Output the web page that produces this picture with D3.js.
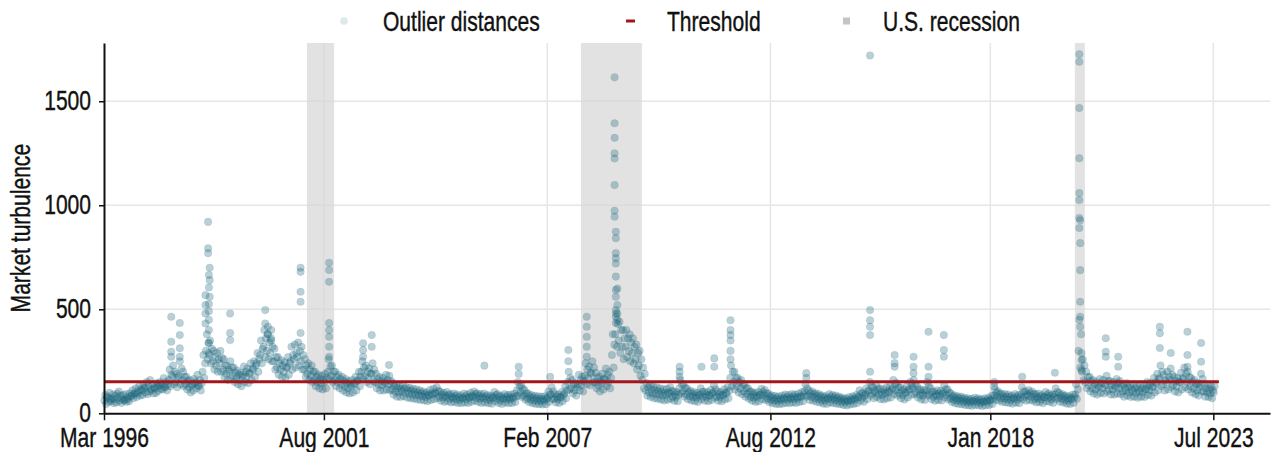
<!DOCTYPE html>
<html>
<head>
<meta charset="utf-8">
<script src="https://cdn.jsdelivr.net/npm/d3@7"></script>
<style>
  html, body { margin: 0; padding: 0; background: #fff; }
  svg { display: block; font-family: "Liberation Sans", Arial, sans-serif; }
</style>
</head>
<body>
<svg id="chart" width="1275" height="452"></svg>
<script>
// Market turbulence readings: four observations per month, one array per year.
const t1996 = [ // Mar–Dec
  [62,88,45,75],[80,55,98,68],[58,72,90,48],[66,84,52,95],[74,105,60,85],
  [50,70,88,62],[64,92,55,78],[70,58,96,82],[86,110,72,95],[92,120,78,105]];
const t1997 = [
  [98,130,85,115],[110,88,135,120],[125,100,150,92],[130,105,160,118],[112,140,95,125],[120,98,145,132],
  [108,135,150,118],[140,115,170,128],[125,150,110,138],[160,210,130,185],[175,230,140,200],[150,190,125,170]];
const t1998 = [
  [180,250,140,215],[160,200,130,175],[140,175,115,155],[125,160,100,140],[135,110,165,145],[150,120,185,135],
  [130,160,110,145],[200,280,170,240],[300,380,260,340],[280,350,240,310],[250,300,210,270],[230,290,200,260]];
const t1999 = [
  [240,300,200,265],[210,260,175,230],[190,230,160,210],[200,250,165,220],[180,220,150,195],[170,205,140,185],
  [160,195,130,175],[185,225,150,200],[175,215,145,190],[195,240,160,215],[210,250,175,230],[240,290,200,260]];
const t2000 = [
  [280,350,240,310],[320,400,270,360],[300,380,260,340],[290,360,250,320],[250,310,210,270],[220,270,185,240],
  [210,255,175,230],[200,245,170,220],[220,270,185,240],[250,320,210,280],[260,330,220,290],[270,340,230,300]];
const t2001 = [
  [250,320,210,280],[210,260,175,230],[190,240,160,210],[180,230,150,200],[160,200,130,175],[150,185,120,165],
  [145,180,115,160],[150,190,120,170],[200,260,165,225],[180,230,150,200],[160,200,130,175],[150,185,120,165]];
const t2002 = [
  [140,175,110,155],[130,165,100,145],[120,155,95,135],[130,160,100,145],[140,175,110,155],[160,200,130,175],
  [200,250,165,220],[180,230,150,200],[170,215,140,190],[190,240,155,210],[150,190,120,165],[140,175,110,155]];
const t2003 = [
  [135,170,110,150],[145,185,115,160],[140,180,110,155],[115,145,90,130],[105,135,80,120],[100,130,78,115],
  [105,135,82,118],[98,125,75,110],[95,122,72,108],[90,118,70,102],[88,115,66,100],[85,110,64,96]];
const t2004 = [
  [82,105,62,92],[78,100,58,88],[85,112,64,96],[90,118,68,100],[95,125,72,108],[80,104,60,90],
  [75,98,55,86],[78,102,58,88],[70,92,52,80],[72,95,54,83],[68,90,50,78],[65,86,48,75]];
const t2005 = [
  [72,95,52,82],[68,90,50,78],[75,98,55,85],[80,105,60,92],[74,96,54,84],[70,92,50,80],
  [72,95,52,82],[66,88,48,76],[64,85,46,74],[78,102,58,88],[70,92,50,80],[62,84,45,72]];
const t2006 = [
  [70,92,52,80],[66,88,48,76],[68,90,50,78],[72,95,54,82],[110,150,85,130],[100,135,78,118],
  [85,110,65,96],[72,95,54,82],[66,88,48,76],[62,84,45,72],[60,82,44,70],[58,80,42,68]];
const t2007 = [
  [60,82,44,70],[75,105,55,90],[90,125,68,105],[70,92,52,80],[68,90,50,78],[78,102,58,88],
  [95,130,72,110],[150,200,115,170],[120,160,95,140],[110,145,85,125],[140,185,110,160],[135,175,105,155]];
const t2008 = [
  [180,240,140,210],[170,225,135,195],[190,250,150,220],[150,195,120,170],[135,175,105,155],[145,190,115,165],
  [165,215,130,185],[150,200,120,170],[280,380,220,330],[380,480,320,430],[350,440,290,400],[320,400,260,360]];
const t2009 = [
  [320,400,270,360],[300,380,250,340],[290,360,240,320],[260,330,210,290],[230,300,180,260],[160,220,120,190],
  [110,145,85,125],[100,135,78,115],[95,128,72,110],[92,125,70,106],[90,120,66,102],[85,115,62,98]];
const t2010 = [
  [88,118,65,100],[95,125,70,108],[80,105,60,92],[78,102,58,88],[120,160,95,140],[105,140,80,120],
  [90,120,68,102],[82,108,62,94],[78,102,58,88],[75,98,55,85],[90,120,68,102],[80,105,60,92]];
const t2011 = [
  [78,102,58,88],[85,112,64,96],[100,135,75,115],[80,105,60,92],[78,102,58,88],[88,115,66,100],
  [95,125,72,108],[170,230,130,200],[150,200,115,170],[130,170,100,150],[120,160,92,138],[105,140,80,120]];
const t2012 = [
  [92,120,70,105],[80,105,60,92],[75,98,55,85],[78,102,58,88],[90,118,68,102],[85,112,64,96],
  [72,95,54,82],[65,86,48,75],[62,84,45,72],[60,80,44,70],[64,85,46,74],[68,90,50,78]];
const t2013 = [
  [66,88,48,76],[70,92,52,80],[68,90,50,78],[72,95,54,82],[78,102,58,88],[105,140,80,120],
  [85,110,64,96],[80,105,60,92],[74,96,55,84],[70,92,52,80],[64,85,46,74],[62,82,45,72]];
const t2014 = [
  [70,92,52,80],[66,88,48,76],[64,85,46,74],[60,80,44,70],[56,75,40,65],[54,72,38,62],
  [58,78,42,68],[62,82,45,72],[66,88,48,76],[80,110,60,95],[75,98,55,85],[90,120,68,105]];
const t2015 = [
  [110,150,85,130],[95,125,72,108],[100,135,78,115],[90,120,68,102],[88,115,66,100],[95,125,72,108],
  [100,130,76,112],[120,160,92,140],[110,145,85,125],[95,125,72,108],[88,115,66,100],[100,130,76,112]];
const t2016 = [
  [115,150,88,130],[120,160,92,140],[100,130,76,112],[88,115,66,100],[85,112,64,96],[110,150,85,130],
  [90,120,68,102],[80,105,60,92],[85,110,64,96],[82,108,62,94],[100,135,76,115],[88,115,66,100]];
const t2017 = [
  [72,95,54,82],[65,86,48,75],[62,82,45,72],[60,80,44,70],[56,75,40,65],[54,72,38,62],
  [52,70,36,60],[56,75,40,65],[54,72,38,62],[50,68,35,58],[54,72,38,62],[56,75,40,65]];
const t2018 = [
  [62,84,45,72],[85,115,64,100],[80,105,60,92],[72,95,54,82],[70,92,52,80],[68,90,50,78],
  [64,85,46,74],[70,92,52,80],[66,88,48,76],[90,125,68,105],[80,105,60,92],[85,112,64,96]];
const t2019 = [
  [80,105,60,92],[70,92,52,80],[72,95,54,82],[66,88,48,76],[78,102,58,88],[74,96,55,84],
  [68,90,50,78],[90,120,68,102],[75,98,56,86],[70,92,52,80],[64,85,46,74],[62,82,45,72]];
const t2020 = [
  [68,90,50,78],[90,140,70,115],[300,450,220,380],[200,260,160,230],[150,200,120,175],[135,175,105,155],
  [120,160,95,140],[115,150,90,132],[125,165,98,145],[120,160,95,140],[135,180,105,155],[115,155,90,135]];
const t2021 = [
  [115,150,90,130],[125,165,95,145],[120,155,92,138],[105,140,80,120],[110,145,85,125],[100,135,78,115],
  [105,140,80,120],[98,130,75,112],[105,140,80,120],[100,135,78,115],[115,150,88,130],[110,145,85,125]];
const t2022 = [
  [130,170,100,150],[145,190,110,165],[170,230,130,200],[140,185,110,160],[150,200,115,175],[160,215,125,185],
  [135,175,105,155],[130,170,100,150],[150,195,115,170],[165,220,125,190],[150,200,115,175],[130,170,100,150]];
const t2023 = [ // Jan–mid Jul
  [120,160,92,140],[110,145,85,125],[140,190,105,165],[105,140,80,120],[100,135,78,115],[95,128,72,110],
  [100,130]];

// Isolated high readings on stress days
const outliers = [
  ["1997-10-27", [464,344,296,272]],
  ["1998-01-12", [434,376,313,272]],
  ["1998-08-31", [568,520,480,432]],
  ["1998-09-24", [920,793,770]],
  ["1998-10-01", [665,605,525,490,450,400,337,290]],
  ["1998-10-08", [700,640,560]],
  ["1999-04-10", [480,386,352]],
  ["2000-02-20", [496,432]],
  ["2000-03-15", [416,380]],
  ["2000-04-14", [400,350]],
  ["2001-01-03", [700,680,584,536,386]],
  ["2001-09-17", [724,689,632,434,400,368,320,272]],
  ["2002-07-20", [337,304,272]],
  ["2002-10-05", [376,320]],
  ["2003-03-10", [232]],
  ["2005-07-15", [229]],
  ["2006-05-20", [224,189]],
  ["2007-02-27", [175]],
  ["2007-08-10", [304,250]],
  ["2008-01-22", [464,416,368,320,272]],
  ["2008-09-29", [1615,1394,1324,1250,1225,1097,974,945]],
  ["2008-10-10", [873,842,770,745,720,657,593,560,496,464,434]],
  ["2008-10-24", [600,520,480,450]],
  ["2010-05-07", [224,200,176]],
  ["2010-11-20", [224]],
  ["2011-03-15", [264,224]],
  ["2011-08-08", [447,400,376,350,300,260]],
  ["2013-06-20", [193,170]],
  ["2015-01-15", [1720,496,447,416,376,200]],
  ["2015-08-24", [280,241,224]],
  ["2016-02-10", [272,224,193]],
  ["2016-06-24", [392,224,176]],
  ["2016-11-09", [376,304,272]],
  ["2018-02-06", [150,130]],
  ["2018-10-15", [176]],
  ["2019-08-05", [195]],
  ["2020-03-12", [1726,1690,1467,1226,1059,1025,939,891]],
  ["2020-03-20", [928,818,688,536,464,416]],
  ["2020-04-01", [290,256,208]],
  ["2020-11-05", [361,296,272]],
  ["2021-02-25", [272,224]],
  ["2022-03-07", [416,385,314]],
  ["2022-06-13", [290]],
  ["2022-11-10", [392,280,224]],
  ["2023-03-13", [338,248]]
];

const yearSeries = [
  [1996, 2, t1996], [1997, 0, t1997], [1998, 0, t1998], [1999, 0, t1999], [2000, 0, t2000],
  [2001, 0, t2001], [2002, 0, t2002], [2003, 0, t2003], [2004, 0, t2004], [2005, 0, t2005],
  [2006, 0, t2006], [2007, 0, t2007], [2008, 0, t2008], [2009, 0, t2009], [2010, 0, t2010],
  [2011, 0, t2011], [2012, 0, t2012], [2013, 0, t2013], [2014, 0, t2014], [2015, 0, t2015],
  [2016, 0, t2016], [2017, 0, t2017], [2018, 0, t2018], [2019, 0, t2019], [2020, 0, t2020],
  [2021, 0, t2021], [2022, 0, t2022], [2023, 0, t2023]
];

const threshold = 152;
const thresholdSpan = ["1996-03-01", "2023-08-20"];
const recessions = [["2001-03-01", "2001-11-01"], ["2007-12-01", "2009-06-01"], ["2020-02-01", "2020-05-01"]];
const xTickDates = ["1996-03-01", "2001-08-01", "2007-02-01", "2012-08-01", "2018-01-01", "2023-07-01"];
const yTicks = [0, 500, 1000, 1500];
const legendItems = ["Outlier distances", "Threshold", "U.S. recession"];

const pointColor = "#176479";
const ink = "#111";
const fontSize = "27px";
const narrow = 0.78; // horizontal squeeze giving a condensed typeface
const parse = d3.utcParse("%Y-%m-%d");

// Flatten monthly readings into dated observations
const points = [];
yearSeries.forEach(([yr, m0, months]) => {
  months.forEach((vals, k) => {
    const start = new Date(Date.UTC(yr, m0 + k, 1));
    const span = d3.utcMonth.offset(start, 1) - start;
    vals.forEach((v, i) => points.push({ date: new Date(+start + span * (i + 0.5) / 4), value: v }));
  });
});
outliers.forEach(([d, vals]) => vals.forEach(v => points.push({ date: parse(d), value: v })));

const svg = d3.select("#chart");
const x = d3.scaleUtc().domain([parse("1996-03-01"), parse("2024-11-22")]).range([104, 1270]);
const y = d3.scaleLinear().domain([0, 1780]).range([413.3, 43]);

// Grid
const grid = svg.append("g").attr("stroke", "#e6e6e6").attr("stroke-width", 1.5);
grid.selectAll("line.h").data(yTicks.filter(d => d > 0)).join("line")
  .attr("x1", x.range()[0]).attr("x2", x.range()[1])
  .attr("y1", d => y(d)).attr("y2", d => y(d));
grid.selectAll("line.v").data(xTickDates.slice(1)).join("line")
  .attr("x1", d => x(parse(d))).attr("x2", d => x(parse(d)))
  .attr("y1", y.range()[1]).attr("y2", y.range()[0]);

// Recession shading
svg.append("g").selectAll("rect").data(recessions).join("rect")
  .attr("x", d => x(parse(d[0])))
  .attr("width", d => x(parse(d[1])) - x(parse(d[0])))
  .attr("y", y.range()[1]).attr("height", y.range()[0] - y.range()[1])
  .attr("fill", "#d6d6d6").attr("fill-opacity", 0.7);

// Observations
svg.append("g").selectAll("circle").data(points).join("circle")
  .attr("cx", d => x(d.date)).attr("cy", d => y(d.value)).attr("r", 3.8)
  .attr("fill", pointColor).attr("fill-opacity", 0.3)
  .attr("stroke", pointColor).attr("stroke-opacity", 0.12).attr("stroke-width", 0.8);

// Threshold
svg.append("line")
  .attr("x1", x(parse(thresholdSpan[0]))).attr("x2", x(parse(thresholdSpan[1])))
  .attr("y1", y(threshold)).attr("y2", y(threshold))
  .attr("stroke", "#a3161b").attr("stroke-width", 3);

// Axes
const fmt = d3.utcFormat("%b %Y");
const xAxis = svg.append("g").attr("transform", `translate(0,${y(0)})`)
  .call(d3.axisBottom(x).tickValues(xTickDates.map(parse)).tickFormat(fmt).tickSize(7).tickSizeOuter(0).tickPadding(8));
const yAxis = svg.append("g").attr("transform", `translate(${x.range()[0]},0)`)
  .call(d3.axisLeft(y).tickValues(yTicks).tickFormat(d3.format("d")).tickSize(5).tickSizeOuter(0));
[xAxis, yAxis].forEach(a => {
  a.select(".domain").attr("stroke", ink).attr("stroke-width", 2);
  a.selectAll(".tick line").attr("stroke", ink).attr("stroke-width", 1.5);
  a.selectAll("text").attr("fill", ink).attr("stroke", ink).attr("stroke-width", 0.4)
    .style("font-size", fontSize).style("font-family", null)
    .attr("transform", `scale(${narrow},1)`);
});
yAxis.selectAll("text").attr("x", -13 / narrow);

svg.append("text")
  .attr("transform", `translate(30,${(y.range()[0] + y.range()[1]) / 2}) rotate(-90) scale(${narrow},1)`)
  .attr("text-anchor", "middle").attr("fill", ink).attr("stroke", ink).attr("stroke-width", 0.4)
  .style("font-size", fontSize).text("Market turbulence");

// Legend
const lg = svg.append("g").attr("transform", "translate(0,21)");
lg.append("circle").attr("cx", 344).attr("cy", 0).attr("r", 3.8).attr("fill", pointColor).attr("fill-opacity", 0.14);
lg.append("line").attr("x1", 626).attr("x2", 635).attr("y1", 0).attr("y2", 0).attr("stroke", "#a3161b").attr("stroke-width", 3);
lg.append("rect").attr("x", 843).attr("y", -3.5).attr("width", 7).attr("height", 7).attr("fill", "#c4c4c4");
lg.selectAll("text").data(legendItems).join("text")
  .attr("transform", (d, i) => `translate(${[383, 667, 883][i]},0) scale(${narrow},1)`)
  .attr("dy", "0.36em").attr("fill", ink).attr("stroke", ink).attr("stroke-width", 0.4)
  .style("font-size", fontSize).text(d => d);
</script>
</body>
</html>
